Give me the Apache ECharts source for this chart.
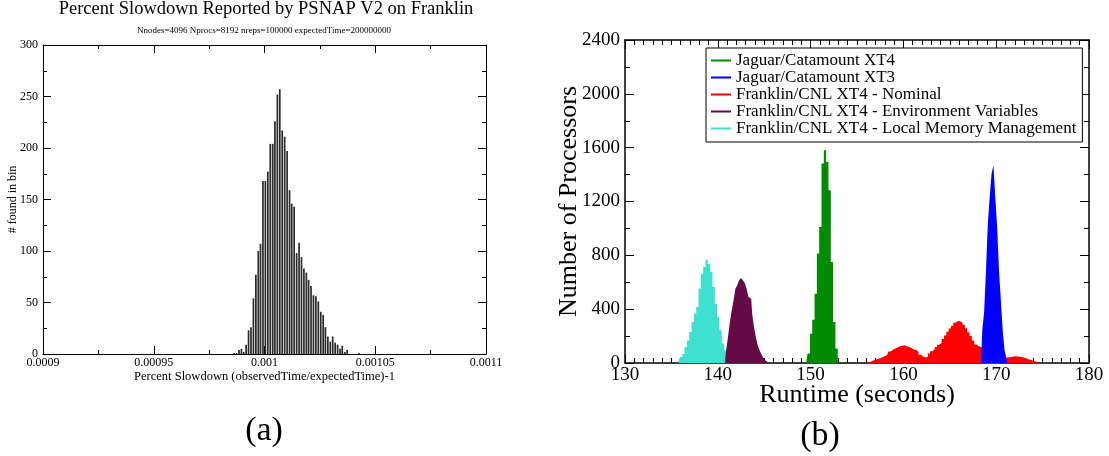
<!DOCTYPE html>
<html><head><meta charset="utf-8">
<script src="https://cdn.jsdelivr.net/npm/echarts@6/dist/echarts.min.js"></script>
<style>html,body{margin:0;padding:0;background:#fff}#c{width:1109px;height:456px}</style>
</head><body><div id="c"></div>
<script>
// ---------- Panel (a): PSNAP histogram ----------
const histBins = [986.3e-6,987.4e-6,988.5e-6,989.6e-6,990.6e-6,991.7e-6,992.8e-6,993.9e-6,995.0e-6,996.1e-6,
  997.2e-6,998.2e-6,999.3e-6,1000.4e-6,1001.5e-6,1002.6e-6,1003.7e-6,1004.7e-6,1005.8e-6,1006.9e-6,
  1008.0e-6,1009.1e-6,1010.2e-6,1011.3e-6,1012.3e-6,1013.4e-6,1014.5e-6,1015.6e-6,1016.7e-6,1017.8e-6,
  1018.9e-6,1019.9e-6,1021.0e-6,1022.1e-6,1023.2e-6,1024.3e-6,1025.4e-6,1026.5e-6,1027.5e-6,1028.6e-6,
  1029.7e-6,1030.8e-6,1031.9e-6,1033.0e-6,1034.1e-6,1035.1e-6,1036.2e-6,1037.3e-6,1042.7e-6];
const histCounts = [1,1,4,5,2,9,23,26,54,77,
  100,107,168,168,177,204,204,226,252,257,
  217,211,197,159,146,143,98,108,94,83,
  79,72,66,57,56,51,41,38,26,17,
  12,17,11,9,5,8,2,4,1];
const aXTickLabels = ['0.0009','0.00095','0.001','0.00105','0.0011'];
const aYTickLabels = ['0','50','100','150','200','250','300'];

// ---------- Panel (b): runtime distributions ----------
const seriesNames = ['Jaguar/Catamount XT4','Jaguar/Catamount XT3','Franklin/CNL XT4 - Nominal',
  'Franklin/CNL XT4 - Environment Variables','Franklin/CNL XT4 - Local Memory Management'];
const seriesColors = ['#008b00','#0000ff','#ff0000','#650a45','#40e0d0'];

const jagXT4Runtime = [149.55,149.8,150.05,150.3,150.55,150.8,151.05,151.3,151.55,151.8,152.05,152.3,152.55,152.8,153.05];
const jagXT4Count   = [20,70,218,322,515,813,1011,1482,1581,1494,1284,751,305,107,20];

const jagXT3Runtime = [168.4,168.6,168.8,169.0,169.2,169.4,169.6,169.8,170.0,170.2,170.4,170.6,170.8,171.0,171.2];
const jagXT3Count   = [69,243,379,689,1036,1234,1407,1469,1234,1011,689,466,243,94,32];

const nominalRuntime = [156.25,156.5,156.75,157.0,157.25,157.5,157.75,158.0,158.25,158.5,
  158.75,159.0,159.25,159.5,159.75,160.0,160.25,160.5,160.75,161.0,
  161.25,161.5,161.75,162.0,162.25,162.5,162.75,163.0,163.25,163.5,
  163.75,164.0,164.25,164.5,164.75,165.0,165.25,165.5,165.75,166.0,
  166.25,166.5,166.75,167.0,167.25,167.5,167.75,168.0,168.25,168.5,
  168.75,169.0,169.25,169.5,169.75,170.0,170.25,170.5,170.75,171.0,
  171.25,171.5,171.75,172.0,172.25,172.5,172.75,173.0,173.25,173.5,
  173.75,174.0,174.25,174.5,174.75];
const nominalCount = [5,10,18,25,30,36,42,50,60,85,
  98,108,116,124,128,132,125,118,112,100,
  96,84,62,48,40,44,70,88,102,118,
  136,150,178,205,232,256,276,300,312,310,
  300,284,258,228,200,168,138,124,118,108,
  96,85,75,66,58,52,46,42,40,40,
  42,45,48,50,48,46,42,38,32,25,
  20,14,10,6,3];

const envRuntime = [140.8,141.0,141.2,141.4,141.6,141.8,142.0,142.2,142.4,142.6,142.8,143.0,
  143.2,143.4,143.6,143.8,144.0,144.2,144.4,144.6,144.8,145.0,145.2,145.4];
const envCount = [32,94,193,305,392,466,553,577,615,632,615,595,
  553,491,478,367,268,193,131,94,64,40,20,7];

const lmmRuntime = [135.8,136.05,136.3,136.55,136.8,137.05,137.3,137.55,137.8,138.05,138.3,138.55,
  138.8,139.05,139.3,139.55,139.8,140.05,140.3,140.55,140.8,141.05,141.3,141.55,141.8];
const lmmCount = [20,45,69,119,168,230,305,367,416,553,664,714,
  768,738,676,565,441,342,243,144,94,57,32,15,5];

const bXTickLabels = ['130','140','150','160','170','180'];
const bYTickLabels = ['0','400','800','1200','1600','2000','2400'];

const FONT = '"Liberation Serif", "Times New Roman", "DejaVu Serif", serif';
const pairs = (xs, ys) => xs.map((x, i) => [x, ys[i]]);
const pick = (arr) => (v) => { const m = arr.find(l => Math.abs(+l - v) < 1e-9 * Math.max(1, Math.abs(v))); return m === undefined ? '' : m; };

function axisBase(extra) {
  return Object.assign({
    type: 'value',
    axisLine: { show: true, onZero: false, lineStyle: { color: '#000', width: 1 } },
    splitLine: { show: false },
    nameMoveOverlap: false
  }, extra);
}

const aTick = { inside: true, length: 8, lineStyle: { color: '#000' } };
const aMinor = (n) => ({ show: true, splitNumber: n, length: 4, lineStyle: { color: '#000' } });
const bTick = { inside: true, length: 9, lineStyle: { color: '#000', width: 1 } };
const bMinor = (n) => ({ show: true, splitNumber: n, length: 5, lineStyle: { color: '#000', width: 1 } });

function stepSeries(idx, xs, ys) {
  return {
    name: seriesNames[idx], type: 'line', xAxisIndex: 2, yAxisIndex: 2,
    step: 'middle', showSymbol: false, symbol: 'none',
    data: pairs(xs, ys),
    itemStyle: { color: seriesColors[idx] },
    lineStyle: { color: seriesColors[idx], width: 0 },
    areaStyle: { color: seriesColors[idx], opacity: 1, origin: 'start' },
    silent: true
  };
}

const txt = (s, x, y, size) => ({ type: 'text', x: x, y: y, style: { text: s, font: size + 'px ' + FONT, fill: '#000',
  textAlign: 'center', textVerticalAlign: 'middle', align: 'center', verticalAlign: 'middle' } });

const chart = echarts.init(document.getElementById('c'), null, { renderer: 'canvas' });
chart.setOption({
  animation: false,
  backgroundColor: '#fff',
  textStyle: { fontFamily: FONT },
  grid: [
    { left: 43, top: 45, width: 443, height: 309 },
    { left: 625, top: 40, width: 464, height: 323 }
  ],
  xAxis: [
    axisBase({ gridIndex: 0, position: 'bottom', min: 0.0009, max: 0.0011, interval: 0.00005,
      axisTick: aTick, minorTick: aMinor(2),
      axisLabel: { color: '#000', fontSize: 12, margin: 3, fontFamily: FONT, formatter: pick(aXTickLabels) },
      name: 'Percent Slowdown (observedTime/expectedTime)-1', nameLocation: 'middle', nameGap: 16,
      nameTextStyle: { fontSize: 12.5, color: '#000', fontFamily: FONT } }),
    axisBase({ gridIndex: 0, position: 'top', min: 0.0009, max: 0.0011, interval: 0.00005,
      axisTick: aTick, minorTick: aMinor(2), axisLabel: { show: false } }),
    axisBase({ gridIndex: 1, position: 'bottom', min: 130, max: 180, interval: 10,
      axisLine: { show: true, onZero: false, lineStyle: { color: '#000', width: 1.5 } },
      axisTick: bTick, minorTick: bMinor(10),
      axisLabel: { color: '#000', fontSize: 19, margin: 3, fontFamily: FONT, formatter: pick(bXTickLabels) },
      name: 'Runtime (seconds)', nameLocation: 'middle', nameGap: 19,
      nameTextStyle: { fontSize: 26, color: '#000', fontFamily: FONT } }),
    axisBase({ gridIndex: 1, position: 'top', min: 130, max: 180, interval: 10,
      axisLine: { show: true, onZero: false, lineStyle: { color: '#000', width: 1.5 } },
      axisTick: bTick, minorTick: bMinor(10), axisLabel: { show: false } })
  ],
  yAxis: [
    axisBase({ gridIndex: 0, position: 'left', min: 0, max: 300, interval: 50,
      axisTick: aTick, minorTick: aMinor(2),
      axisLabel: { color: '#000', fontSize: 12, margin: 5, fontFamily: FONT, formatter: pick(aYTickLabels) },
      name: '# found in bin', nameLocation: 'middle', nameGap: 24,
      nameTextStyle: { fontSize: 12, color: '#000', fontFamily: FONT } }),
    axisBase({ gridIndex: 0, position: 'right', min: 0, max: 300, interval: 50,
      axisTick: aTick, minorTick: aMinor(2), axisLabel: { show: false } }),
    axisBase({ gridIndex: 1, position: 'left', min: 0, max: 2400, interval: 400,
      axisLine: { show: true, onZero: false, lineStyle: { color: '#000', width: 1.5 } },
      axisTick: bTick, minorTick: bMinor(2),
      axisLabel: { color: '#000', fontSize: 19, margin: 5, fontFamily: FONT, formatter: pick(bYTickLabels) },
      name: 'Number of Processors', nameLocation: 'middle', nameGap: 43,
      nameTextStyle: { fontSize: 26, color: '#000', fontFamily: FONT } }),
    axisBase({ gridIndex: 1, position: 'right', min: 0, max: 2400, interval: 400,
      axisLine: { show: true, onZero: false, lineStyle: { color: '#000', width: 1.5 } },
      axisTick: bTick, minorTick: bMinor(2), axisLabel: { show: false } })
  ],
  legend: {
    orient: 'vertical', left: 706, top: 48,
    data: seriesNames, icon: 'rect', itemWidth: 20, itemHeight: 2, itemGap: 0,
    padding: [4, 6, 5, 5], borderColor: '#000', borderWidth: 1, backgroundColor: '#fff',
    textStyle: { fontSize: 17, color: '#000', fontFamily: FONT, lineHeight: 17 },
    selectedMode: false
  },
  series: [
    { type: 'bar', xAxisIndex: 0, yAxisIndex: 0, data: pairs(histBins, histCounts),
      barWidth: 1.7, itemStyle: { color: '#2a2a2a' }, silent: true },
    stepSeries(2, nominalRuntime, nominalCount),
    stepSeries(4, lmmRuntime, lmmCount),
    stepSeries(3, envRuntime, envCount),
    stepSeries(0, jagXT4Runtime, jagXT4Count),
    stepSeries(1, jagXT3Runtime, jagXT3Count)
  ],
  graphic: [
    txt('Percent Slowdown Reported by PSNAP V2 on Franklin', 266, 9, 18.5),
    txt('Nnodes=4096 Nprocs=8192 nreps=100000 expectedTime=200000000', 264, 31, 9),
    txt('(a)', 264, 431, 34),
    txt('(b)', 820, 436, 34)
  ]
});
</script></body></html>
